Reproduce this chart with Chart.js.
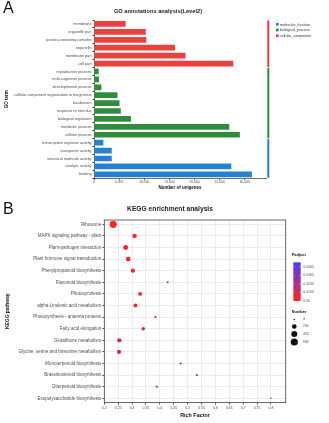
<!DOCTYPE html>
<html>
<head>
<meta charset="utf-8">
<script src="https://cdn.jsdelivr.net/npm/chart.js@4.4.0/dist/chart.umd.min.js"></script>
<style>
  html, body { margin: 0; padding: 0; background: #fff; }
  body { width: 329px; height: 423px; position: relative; overflow: hidden;
         font-family: "Liberation Sans", Arial, Helvetica, sans-serif; }
  .panel { position: absolute; left: 0; width: 329px; }
  #wrapA { top: 0; height: 196px; }
  #wrapB { top: 196px; height: 227px; }
  canvas { display: block; }
  .letter { position: absolute; font-size: 16px; line-height: 16px; color: #111; }
  .ttl { position: absolute; font-weight: bold; color: #222; white-space: nowrap;
         transform: translateX(-50%); line-height: 1; }
</style>
</head>
<body>
<div class="panel" id="wrapA"><canvas id="goChart" width="329" height="196"></canvas></div>
<div class="panel" id="wrapB"><canvas id="keggChart" width="329" height="227"></canvas></div>
<div class="letter" style="left:3px;top:-0.4px;">A</div>
<div class="letter" style="left:3px;top:201.2px;">B</div>
<div class="ttl" style="left:158px;top:9.2px;font-size:5.7px;">GO annotations analysis(Level2)</div>
<div class="ttl" style="left:170px;top:205.8px;font-size:6.7px;">KEGG enrichment analysis</div>

<script>
// ---------- Panel A: GO annotation counts ----------
const goTerms = [
  'membrane', 'organelle part', 'protein-containing complex', 'organelle',
  'membrane part', 'cell part',
  'reproductive process', 'multi-organism process', 'developmental process',
  'cellular component organization or biogenesis', 'localization',
  'response to stimulus', 'biological regulation', 'metabolic process',
  'cellular process',
  'transcription regulator activity', 'transporter activity',
  'structural molecule activity', 'catalytic activity', 'binding'
];
const goCategory = [
  'cellular_component', 'cellular_component', 'cellular_component',
  'cellular_component', 'cellular_component', 'cellular_component',
  'biological_process', 'biological_process', 'biological_process',
  'biological_process', 'biological_process', 'biological_process',
  'biological_process', 'biological_process', 'biological_process',
  'molecular_function', 'molecular_function', 'molecular_function',
  'molecular_function', 'molecular_function'
];
const goCounts = [
  6300, 10300, 10400, 16100, 18200, 27700,
  930, 1000, 1470, 4670, 5070, 5330, 7330, 26900, 29000,
  1870, 3530, 3530, 27300, 31400
];
const goTicks = [0, 5000, 10000, 15000, 20000, 25000, 30000];
const goLegendOrder = ['molecular_function', 'biological_process', 'cellular_component'];
const goColors = {
  molecular_function: '#2483d0',
  biological_process: '#2f8c3c',
  cellular_component: '#e8413e'
};

// ---------- Panel B: KEGG enrichment ----------
const keggPathways = [
  'Ribosome', 'MAPK signaling pathway - plant', 'Plant-pathogen interaction',
  'Plant hormone signal transduction', 'Phenylpropanoid biosynthesis',
  'Flavonoid biosynthesis', 'Photosynthesis', 'alpha-Linolenic acid metabolism',
  'Photosynthesis - antenna proteins', 'Fatty acid elongation',
  'Glutathione metabolism', 'Glycine, serine and threonine metabolism',
  'Monoterpenoid biosynthesis', 'Brassinosteroid biosynthesis',
  'Diterpenoid biosynthesis', 'Exopolysaccharide biosynthesis'
];
const richFactor = [
  0.232, 0.309, 0.277, 0.286, 0.303, 0.428, 0.329, 0.312,
  0.384, 0.340, 0.254, 0.253, 0.475, 0.533, 0.389, 0.800
];
const geneNumber = [
  680, 210, 280, 250, 190, 20, 140, 140,
  25, 120, 190, 180, 25, 20, 25, 4
];
const padjust = [
  0.0002, 0.0010, 0.0003, 0.0005, 0.0015, 0.0090, 0.0020, 0.0030,
  0.0130, 0.0060, 0.0150, 0.0170, 0.0190, 0.0270, 0.0210, 0.0450
];
const richTicks = [0.2, 0.25, 0.3, 0.35, 0.4, 0.45, 0.5, 0.55, 0.6, 0.65, 0.7, 0.75, 0.8];
const padjTicks = [0.04, 0.03, 0.02, 0.01, 0];
const padjTickLabels = ['0.0400', '0.0300', '0.0200', '0.0100', '0.00'];
const numberBreaks = [4, 230, 455, 680];

const FONT = "'Liberation Sans', Arial, Helvetica, sans-serif";
Chart.defaults.font.family = FONT;
const TICK_COLOR = '#4d4d4d';

// ---- Panel A chart ----
const goSidePlugin = {
  id: 'goSide',
  afterDraw(chart) {
    const { ctx, chartArea, scales: { y } } = chart;
    const step = y.getPixelForValue(1) - y.getPixelForValue(0);
    ctx.save();
    // group strips to the right of the bars
    goLegendOrder.forEach(key => {
      const idx = goCategory.map((c, i) => (c === key ? i : -1)).filter(i => i >= 0);
      const y0 = y.getPixelForValue(idx[0]) - step / 2 + 0.4;
      const y1 = y.getPixelForValue(idx[idx.length - 1]) + step / 2 - 0.4;
      ctx.fillStyle = goColors[key];
      ctx.fillRect(chartArea.right + 1.3, y0, 2, y1 - y0);
    });
    // legend
    ctx.font = '3.6px ' + FONT;
    ctx.textBaseline = 'middle';
    ctx.textAlign = 'left';
    goLegendOrder.forEach((key, i) => {
      const cy = chartArea.top + 4.3 + i * 5.7;
      const cx = chartArea.right + 10;
      ctx.fillStyle = goColors[key];
      ctx.fillRect(cx, cy - 1.35, 2.7, 2.7);
      ctx.fillStyle = '#333';
      ctx.fillText(key, cx + 4, cy + 0.2);
    });
    ctx.restore();
  }
};

new Chart(document.getElementById('goChart'), {
  type: 'bar',
  data: {
    labels: goTerms,
    datasets: goLegendOrder.map(key => ({
      label: key,
      data: goCounts.map((v, i) => (goCategory[i] === key ? v : null)),
      backgroundColor: goColors[key],
      borderWidth: 0,
      grouped: false,
      barPercentage: 0.72,
      categoryPercentage: 1
    }))
  },
  options: {
    indexAxis: 'y',
    responsive: false,
    animation: false,
    events: [],
    layout: { padding: { top: 20, right: 63, bottom: 5.3, left: 0 } },
    plugins: { legend: { display: false }, tooltip: { enabled: false }, title: { display: false } },
    scales: {
      x: {
        min: 0,
        max: 34200,
        afterBuildTicks: s => { s.ticks = goTicks.map(v => ({ value: v })); },
        afterFit: s => { s.height = 12.4; },
        ticks: { font: { size: 3.35 }, color: TICK_COLOR, padding: 0.5, maxRotation: 0, autoSkip: false },
        grid: { display: true, drawOnChartArea: false, tickLength: 1.5, tickColor: '#333' },
        border: { display: true, color: '#333', width: 0.7 },
        title: { display: true, text: 'Number of unigenes', color: '#111',
                 font: { size: 4.45, weight: 'bold' }, padding: { top: 0, bottom: 0 } }
      },
      y: {
        afterFit: s => { s.width = 94; },
        ticks: { font: { size: 3.8 }, color: TICK_COLOR, padding: 1, autoSkip: false },
        grid: { display: true, drawOnChartArea: false, tickLength: 1.5, tickColor: '#333' },
        border: { display: true, color: '#333', width: 0.7 },
        title: { display: true, text: 'GO term', color: '#111',
                 font: { size: 4.5, weight: 'bold' }, padding: { top: 4.3, bottom: 0 } }
      }
    }
  },
  plugins: [goSidePlugin]
});

// ---- Panel B chart ----
const PADJ_MAX = 0.0452;
const LOW = [255, 38, 38];   // small adjusted p
const HIGH = [72, 60, 255];  // large adjusted p
function padjColor(p) {
  const t = Math.max(0, Math.min(1, p / PADJ_MAX));
  const c = LOW.map((l, i) => Math.round(l + (HIGH[i] - l) * t));
  return `rgb(${c[0]},${c[1]},${c[2]})`;
}
const N_MIN = 4, N_MAX = 680, R_MIN = 0.75, R_MAX = 3.6;
function radiusFor(n) {
  const s = (Math.sqrt(n) - Math.sqrt(N_MIN)) / (Math.sqrt(N_MAX) - Math.sqrt(N_MIN));
  return R_MIN + s * (R_MAX - R_MIN);
}

const keggSidePlugin = {
  id: 'keggSide',
  beforeDatasetsDraw(chart) {
    const { ctx, chartArea } = chart;
    ctx.save();
    ctx.strokeStyle = '#444';
    ctx.lineWidth = 0.8;
    ctx.strokeRect(chartArea.left, chartArea.top, chartArea.right - chartArea.left, chartArea.bottom - chartArea.top);
    ctx.restore();
  },
  afterDraw(chart) {
    const { ctx, chartArea } = chart;
    const x0 = chartArea.right;
    const t0 = chartArea.top;
    ctx.save();
    // colour bar
    ctx.fillStyle = '#111';
    ctx.font = 'bold 3.9px ' + FONT;
    ctx.textAlign = 'left';
    ctx.textBaseline = 'middle';
    ctx.fillText('Padjust', x0 + 6, t0 + 35);
    const barX = x0 + 7.6, barW = 7.4, barTop = t0 + 42.3, barH = 38.7;
    const grad = ctx.createLinearGradient(0, barTop + barH, 0, barTop);
    for (let k = 0; k <= 10; k++) grad.addColorStop(k / 10, padjColor(PADJ_MAX * k / 10));
    ctx.fillStyle = grad;
    ctx.fillRect(barX, barTop, barW, barH);
    ctx.font = '3.4px ' + FONT;
    padjTicks.forEach((v, i) => {
      const yy = barTop + barH - (v / PADJ_MAX) * barH;
      ctx.strokeStyle = '#fff';
      ctx.lineWidth = 0.4;
      ctx.beginPath();
      ctx.moveTo(barX, yy); ctx.lineTo(barX + 1.4, yy);
      ctx.moveTo(barX + barW - 1.4, yy); ctx.lineTo(barX + barW, yy);
      ctx.stroke();
      ctx.fillStyle = TICK_COLOR;
      ctx.fillText(padjTickLabels[i], x0 + 17.6, yy);
    });
    // size legend
    ctx.fillStyle = '#111';
    ctx.font = 'bold 3.9px ' + FONT;
    ctx.fillText('Number', x0 + 6, t0 + 91.7);
    const ys = [99.5, 106.5, 114, 122];
    ctx.font = '3.4px ' + FONT;
    numberBreaks.forEach((n, i) => {
      ctx.fillStyle = '#111';
      ctx.beginPath();
      ctx.arc(x0 + 8.6, t0 + ys[i], radiusFor(n), 0, Math.PI * 2);
      ctx.fill();
      ctx.fillStyle = TICK_COLOR;
      ctx.fillText(String(n), x0 + 17.3, t0 + ys[i]);
    });
    ctx.restore();
  }
};

new Chart(document.getElementById('keggChart'), {
  type: 'bubble',
  data: {
    datasets: [{
      data: keggPathways.map((p, i) => ({ x: richFactor[i], y: i, r: radiusFor(geneNumber[i]) })),
      backgroundColor: padjust.map(padjColor),
      borderWidth: 0
    }]
  },
  options: {
    responsive: false,
    animation: false,
    events: [],
    layout: { padding: { top: 24, right: 43.3, bottom: 4, left: 0 } },
    plugins: { legend: { display: false }, tooltip: { enabled: false } },
    scales: {
      x: {
        type: 'linear',
        min: 0.2,
        max: 0.853,
        afterBuildTicks: s => { s.ticks = richTicks.map(v => ({ value: v })); },
        afterFit: s => { s.height = 16.4; },
        ticks: { font: { size: 3.5 }, color: TICK_COLOR, padding: 1, maxRotation: 0, autoSkip: false,
                 callback: v => String(+v.toFixed(2)) },
        grid: { color: '#e6e6e6', lineWidth: 0.8, tickLength: 2, tickColor: '#333' },
        border: { display: false },
        title: { display: true, text: 'Rich Factor', color: '#111',
                 font: { size: 5.4, weight: 'bold' }, padding: { top: 0, bottom: 0 } }
      },
      y: {
        type: 'linear',
        reverse: true,
        min: -0.37,
        max: keggPathways.length - 1 + 0.37,
        afterBuildTicks: s => { s.ticks = keggPathways.map((_, i) => ({ value: i })); },
        afterFit: s => { s.width = 104.3; },
        ticks: { font: { size: 4.5 }, color: TICK_COLOR, padding: 1, autoSkip: false,
                 callback: v => keggPathways[v] },
        grid: { color: '#e6e6e6', lineWidth: 0.8, tickLength: 2, tickColor: '#333' },
        border: { display: false },
        title: { display: true, text: 'KEGG pathway', color: '#111',
                 font: { size: 4.9, weight: 'bold' }, padding: { top: 4.6, bottom: 0 } }
      }
    }
  },
  plugins: [keggSidePlugin]
});
</script>
</body>
</html>
